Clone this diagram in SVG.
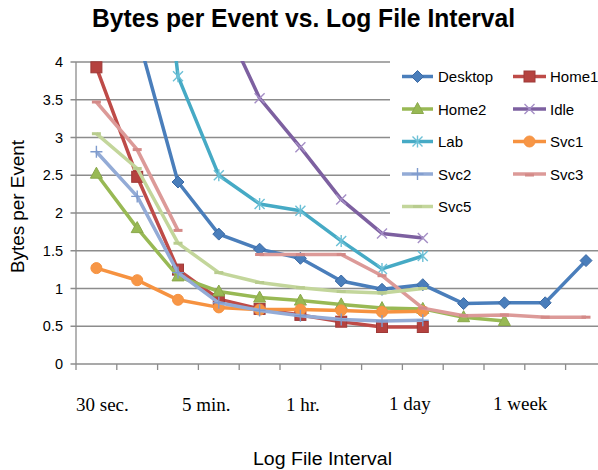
<svg xmlns="http://www.w3.org/2000/svg" width="598" height="470" viewBox="0 0 598 470">
  <style>
    .title { font-family: "Liberation Sans Narrow", "Liberation Sans", Arial, sans-serif; font-weight: bold; font-size: 26px; fill: #000; }
    .axtitle { font-family: "Liberation Sans", Arial, sans-serif; font-size: 18px; fill: #000; }
    .ytick { font-family: "Liberation Sans", Arial, sans-serif; font-size: 14.5px; fill: #000; text-anchor: end; }
    .xtick { font-family: "Liberation Serif", "Times New Roman", serif; font-size: 19px; fill: #000; }
    .leg { font-family: "Liberation Sans", Arial, sans-serif; font-size: 15px; fill: #000; }
    .grid { stroke: #8c8c8c; stroke-width: 1.3; fill: none; }
    .axis { stroke: #8c8c8c; stroke-width: 1.3; fill: none; }
    .s { fill: none; stroke-width: 3.5; stroke-linejoin: round; stroke-linecap: butt; }
    .desktop { stroke: #4a7ebb; }
    .home1 { stroke: #be4b48; }
    .home2 { stroke: #98b954; }
    .idle { stroke: #7d60a0; }
    .lab { stroke: #46aac5; }
    .svc1 { stroke: #f69240; }
    .svc2 { stroke: #93abd6; }
    .svc3 { stroke: #dc9a98; }
    .svc5 { stroke: #c3d69b; }
  </style>
  <defs>
    <clipPath id="plot">
      <rect x="70" y="61" width="528" height="312"/>
    </clipPath>
    <!-- series markers, centred on the origin -->
    <path id="m-diamond" d="M0,-6 L6,0 L0,6 L-6,0 Z" fill="#4a7ebb" stroke="#3c6aa4" stroke-width="1"/>
    <rect id="m-square" x="-5.5" y="-5.5" width="11" height="11" fill="#b5423f" stroke="#9e3a38" stroke-width="1"/>
    <path id="m-triangle" d="M0,-6.5 L6,4.5 L-6,4.5 Z" fill="#98b954" stroke="#8aa84c" stroke-width="1"/>
    <path id="m-x" d="M-5,-5 L5,5 M-5,5 L5,-5" stroke="#a58fc6" stroke-width="1.4" fill="none"/>
    <path id="m-star" d="M-5,-5 L5,5 M-5,5 L5,-5 M0,-6 L0,6" stroke="#6cc0d6" stroke-width="1.4" fill="none"/>
    <circle id="m-circle" r="5.5" fill="#f79646" stroke="#f69240" stroke-width="1"/>
    <path id="m-plus" d="M-6,0 L6,0 M0,-6 L0,6" stroke="#7f9bcd" stroke-width="1.4" fill="none"/>
    <rect id="m-dash3" x="-4.5" y="-1.5" width="9" height="3" fill="#d48a88"/>
    <rect id="m-dash5" x="-4.5" y="-1.5" width="9" height="3" fill="#b8cc8e"/>
  </defs>

  <rect width="598" height="470" fill="#ffffff"/>

  <!-- title -->
  <text class="title" x="303.5" y="27" text-anchor="middle" textLength="423" lengthAdjust="spacingAndGlyphs">Bytes per Event vs. Log File Interval</text>

  <!-- gridlines -->
  <g id="gridlines">
    <line class="grid" x1="76" y1="62" x2="598" y2="62"/>
    <line class="grid" x1="76" y1="99.75" x2="598" y2="99.75"/>
    <line class="grid" x1="76" y1="137.5" x2="598" y2="137.5"/>
    <line class="grid" x1="76" y1="175.25" x2="598" y2="175.25"/>
    <line class="grid" x1="76" y1="213" x2="598" y2="213"/>
    <line class="grid" x1="76" y1="250.75" x2="598" y2="250.75"/>
    <line class="grid" x1="76" y1="288.5" x2="598" y2="288.5"/>
    <line class="grid" x1="76" y1="326.25" x2="598" y2="326.25"/>
  </g>

  <!-- axes with tick marks -->
  <g id="axes">
    <line class="axis" x1="76" y1="62" x2="76" y2="370"/>
    <line class="axis" x1="70.5" y1="364" x2="598" y2="364"/>
    <path class="axis" d="M70.5,62H76 M70.5,99.75H76 M70.5,137.5H76 M70.5,175.25H76 M70.5,213H76 M70.5,250.75H76 M70.5,288.5H76 M70.5,326.25H76"/>
    <path class="axis" d="M116.8,364V370 M157.6,364V370 M198.4,364V370 M239.2,364V370 M280,364V370 M320.8,364V370 M361.6,364V370 M402.4,364V370 M443.2,364V370 M484,364V370 M524.8,364V370 M565.6,364V370"/>
  </g>

  <!-- y tick labels -->
  <g id="y-labels">
    <text class="ytick" x="63" y="67">4</text>
    <text class="ytick" x="63" y="104.75">3.5</text>
    <text class="ytick" x="63" y="142.5">3</text>
    <text class="ytick" x="63" y="180.25">2.5</text>
    <text class="ytick" x="63" y="218">2</text>
    <text class="ytick" x="63" y="255.75">1.5</text>
    <text class="ytick" x="63" y="293.5">1</text>
    <text class="ytick" x="63" y="331.25">0.5</text>
    <text class="ytick" x="63" y="369">0</text>
  </g>

  <!-- x interval labels -->
  <g id="x-labels">
    <text class="xtick" x="76" y="410.5">30 sec.</text>
    <text class="xtick" x="182" y="410.5">5 min.</text>
    <text class="xtick" x="286" y="410.5">1 hr.</text>
    <text class="xtick" x="389" y="410">1 day</text>
    <text class="xtick" x="493" y="409.5">1 week</text>
  </g>

  <!-- axis titles -->
  <text class="axtitle" transform="translate(23.5,206.5) rotate(-90)" text-anchor="middle" textLength="133" lengthAdjust="spacingAndGlyphs">Bytes per Event</text>
  <text class="axtitle" x="322.5" y="465" font-size="20" text-anchor="middle" textLength="139" lengthAdjust="spacingAndGlyphs">Log File Interval</text>

  <!-- data series -->
  <g id="connectors" clip-path="url(#plot)">
    <g id="series-desktop">
      <polyline class="s desktop" points="137.2,33.3 178,182 218.8,234.1 259.6,249.2 300.4,258.3 341.2,281 382,289.3 422.8,284.7 463.6,303.6 504.4,302.8 545.2,302.8 586,260.6"/>
      <use href="#m-diamond" x="178" y="182"/>
      <use href="#m-diamond" x="218.8" y="234.1"/>
      <use href="#m-diamond" x="259.6" y="249.2"/>
      <use href="#m-diamond" x="300.4" y="258.3"/>
      <use href="#m-diamond" x="341.2" y="281"/>
      <use href="#m-diamond" x="382" y="289.3"/>
      <use href="#m-diamond" x="422.8" y="284.7"/>
      <use href="#m-diamond" x="463.6" y="303.6"/>
      <use href="#m-diamond" x="504.4" y="302.8"/>
      <use href="#m-diamond" x="545.2" y="302.8"/>
      <use href="#m-diamond" x="586" y="260.6"/>
    </g>
    <g id="series-home1">
      <polyline class="s home1" points="96.4,67.3 137.2,176.8 178,269.6 218.8,299.1 259.6,308.9 300.4,314.9 341.2,321.7 382,327 422.8,327"/>
      <use href="#m-square" x="96.4" y="67.3"/>
      <use href="#m-square" x="137.2" y="176.8"/>
      <use href="#m-square" x="178" y="269.6"/>
      <use href="#m-square" x="218.8" y="299.1"/>
      <use href="#m-square" x="259.6" y="308.9"/>
      <use href="#m-square" x="300.4" y="314.9"/>
      <use href="#m-square" x="341.2" y="321.7"/>
      <use href="#m-square" x="382" y="327"/>
      <use href="#m-square" x="422.8" y="327"/>
    </g>
    <g id="series-home2">
      <polyline class="s home2" points="96.4,173.7 137.2,228.1 178,276.4 218.8,291.5 259.6,297.6 300.4,300.6 341.2,304.4 382,308.1 422.8,308.9 463.6,317.2 504.4,321"/>
      <use href="#m-triangle" x="96.4" y="173.7"/>
      <use href="#m-triangle" x="137.2" y="228.1"/>
      <use href="#m-triangle" x="178" y="276.4"/>
      <use href="#m-triangle" x="218.8" y="291.5"/>
      <use href="#m-triangle" x="259.6" y="297.6"/>
      <use href="#m-triangle" x="300.4" y="300.6"/>
      <use href="#m-triangle" x="341.2" y="304.4"/>
      <use href="#m-triangle" x="382" y="308.1"/>
      <use href="#m-triangle" x="422.8" y="308.9"/>
      <use href="#m-triangle" x="463.6" y="317.2"/>
      <use href="#m-triangle" x="504.4" y="321"/>
    </g>
    <g id="series-idle">
      <polyline class="s idle" points="218.8,10.7 259.6,98.2 300.4,147.3 341.2,199.4 382,233.4 422.8,237.9"/>
      <use href="#m-x" x="259.6" y="98.2"/>
      <use href="#m-x" x="300.4" y="147.3"/>
      <use href="#m-x" x="341.2" y="199.4"/>
      <use href="#m-x" x="382" y="233.4"/>
      <use href="#m-x" x="422.8" y="237.9"/>
    </g>
    <g id="series-lab">
      <polyline class="s lab" points="137.2,-285 178,76.3 218.8,175.3 259.6,203.9 300.4,210.7 341.2,240.9 382,268.9 422.8,256"/>
      <use href="#m-star" x="178" y="76.3"/>
      <use href="#m-star" x="218.8" y="175.3"/>
      <use href="#m-star" x="259.6" y="203.9"/>
      <use href="#m-star" x="300.4" y="210.7"/>
      <use href="#m-star" x="341.2" y="240.9"/>
      <use href="#m-star" x="382" y="268.9"/>
      <use href="#m-star" x="422.8" y="256"/>
    </g>
    <g id="series-svc1">
      <polyline class="s svc1" points="96.4,268.1 137.2,280.2 178,299.8 218.8,307.4 259.6,309.6 300.4,309.6 341.2,310.4 382,311.9 422.8,311.2"/>
      <use href="#m-circle" x="96.4" y="268.1"/>
      <use href="#m-circle" x="137.2" y="280.2"/>
      <use href="#m-circle" x="178" y="299.8"/>
      <use href="#m-circle" x="218.8" y="307.4"/>
      <use href="#m-circle" x="259.6" y="309.6"/>
      <use href="#m-circle" x="300.4" y="309.6"/>
      <use href="#m-circle" x="341.2" y="310.4"/>
      <use href="#m-circle" x="382" y="311.9"/>
      <use href="#m-circle" x="422.8" y="311.2"/>
    </g>
    <g id="series-svc2">
      <polyline class="s svc2" points="96.4,151.8 137.2,196.4 178,272.6 218.8,302.8 259.6,310.4 300.4,315.7 341.2,319.5 382,321 422.8,320.2"/>
      <use href="#m-plus" x="96.4" y="151.8"/>
      <use href="#m-plus" x="137.2" y="196.4"/>
      <use href="#m-plus" x="178" y="272.6"/>
      <use href="#m-plus" x="218.8" y="302.8"/>
      <use href="#m-plus" x="259.6" y="310.4"/>
      <use href="#m-plus" x="300.4" y="315.7"/>
      <use href="#m-plus" x="341.2" y="319.5"/>
      <use href="#m-plus" x="382" y="321"/>
      <use href="#m-plus" x="422.8" y="320.2"/>
    </g>
    <g id="series-svc3">
      <polyline class="s svc3" points="96.4,102 137.2,149.6 178,230.4"/>
      <polyline class="s svc3" points="259.6,254.5 300.4,254.5 341.2,254.5 382,275.7 422.8,308.1 463.6,315.7 504.4,314.9 545.2,317.2 586,317.2"/>
      <use href="#m-dash3" x="96.4" y="102"/>
      <use href="#m-dash3" x="137.2" y="149.6"/>
      <use href="#m-dash3" x="178" y="230.4"/>
      <use href="#m-dash3" x="259.6" y="254.5"/>
      <use href="#m-dash3" x="300.4" y="254.5"/>
      <use href="#m-dash3" x="341.2" y="254.5"/>
      <use href="#m-dash3" x="382" y="275.7"/>
      <use href="#m-dash3" x="422.8" y="308.1"/>
      <use href="#m-dash3" x="463.6" y="315.7"/>
      <use href="#m-dash3" x="504.4" y="314.9"/>
      <use href="#m-dash3" x="545.2" y="317.2"/>
      <use href="#m-dash3" x="586" y="317.2"/>
    </g>
    <g id="series-svc5">
      <polyline class="s svc5" points="96.4,133.7 137.2,168.5 178,243.2 218.8,272.6 259.6,282.5 300.4,287.7 341.2,291.5 382,293 422.8,288.5"/>
      <use href="#m-dash5" x="96.4" y="133.7"/>
      <use href="#m-dash5" x="137.2" y="168.5"/>
      <use href="#m-dash5" x="178" y="243.2"/>
      <use href="#m-dash5" x="218.8" y="272.6"/>
      <use href="#m-dash5" x="259.6" y="282.5"/>
      <use href="#m-dash5" x="300.4" y="287.7"/>
      <use href="#m-dash5" x="341.2" y="291.5"/>
      <use href="#m-dash5" x="382" y="293"/>
      <use href="#m-dash5" x="422.8" y="288.5"/>
    </g>
  </g>

  <!-- legend -->
  <g id="legend">
    <rect x="390" y="55" width="208" height="168" fill="#ffffff"/>
    <g id="leg-desktop">
      <line class="s desktop" x1="402" y1="76.5" x2="433" y2="76.5"/>
      <use href="#m-diamond" x="417.5" y="76.5"/>
      <text class="leg" x="438" y="82">Desktop</text>
    </g>
    <g id="leg-home1">
      <line class="s home1" x1="513" y1="76.5" x2="546" y2="76.5"/>
      <use href="#m-square" x="529.5" y="76.5"/>
      <text class="leg" x="550" y="82">Home1</text>
    </g>
    <g id="leg-home2">
      <line class="s home2" x1="402" y1="109" x2="433" y2="109"/>
      <use href="#m-triangle" x="417.5" y="109"/>
      <text class="leg" x="438" y="114.5">Home2</text>
    </g>
    <g id="leg-idle">
      <line class="s idle" x1="513" y1="109" x2="546" y2="109"/>
      <use href="#m-x" x="529.5" y="109"/>
      <text class="leg" x="550" y="114.5">Idle</text>
    </g>
    <g id="leg-lab">
      <line class="s lab" x1="402" y1="141.5" x2="433" y2="141.5"/>
      <use href="#m-star" x="417.5" y="141.5"/>
      <text class="leg" x="438" y="147">Lab</text>
    </g>
    <g id="leg-svc1">
      <line class="s svc1" x1="513" y1="141.5" x2="546" y2="141.5"/>
      <use href="#m-circle" x="529.5" y="141.5"/>
      <text class="leg" x="550" y="147">Svc1</text>
    </g>
    <g id="leg-svc2">
      <line class="s svc2" x1="402" y1="174" x2="433" y2="174"/>
      <use href="#m-plus" x="417.5" y="174"/>
      <text class="leg" x="438" y="179.5">Svc2</text>
    </g>
    <g id="leg-svc3">
      <line class="s svc3" x1="513" y1="174" x2="546" y2="174"/>
      <use href="#m-dash3" x="529.5" y="175"/>
      <text class="leg" x="550" y="179.5">Svc3</text>
    </g>
    <g id="leg-svc5">
      <line class="s svc5" x1="402" y1="206.5" x2="433" y2="206.5"/>
      <use href="#m-dash5" x="417.5" y="206.5"/>
      <text class="leg" x="438" y="212">Svc5</text>
    </g>
  </g>
</svg>
